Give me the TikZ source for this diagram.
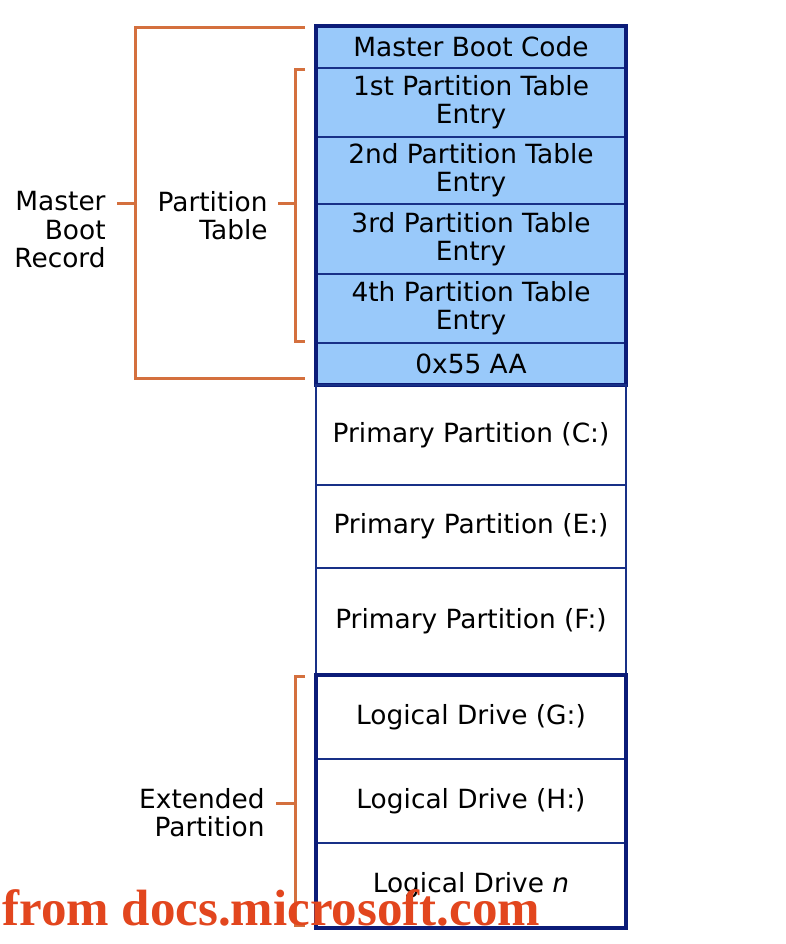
\documentclass[tikz,border=0pt]{standalone}
\usepackage{fontspec}
\setmainfont{DejaVu Sans}
\newfontfamily\srcfont{Liberation Serif}
\usepackage{tikz}
\usetikzlibrary{positioning}

\definecolor{cellfill}{RGB}{153,201,250}
\definecolor{cellline}{RGB}{24,48,135}
\definecolor{boxline}{RGB}{12,28,120}
\definecolor{bracecol}{RGB}{212,112,62}
\definecolor{srccol}{RGB}{226,70,30}

\begin{document}
\begin{tikzpicture}[x=0.5pt, y=-0.5pt,
    every node/.style={font=\fontsize{13.2}{14.2}\selectfont},
    cell/.style={draw=cellline, line width=0.9pt, minimum width=155pt, inner sep=0pt, outer sep=0pt, align=center},
    mbrcell/.style={cell, fill=cellfill},
    outer/.style={draw=boxline, line width=1.7pt},
    brace/.style={draw=bracecol, line width=1.5pt},
    lbl/.style={align=right, anchor=north east, inner sep=0pt}]
    \useasboundingbox (0,0) rectangle (786,944);

    % master boot record
    \node[mbrcell, minimum height=21pt, anchor=north] (mbc) at (471,26) {Master Boot Code};
    \node[mbrcell, minimum height=34.5pt, below=0pt of mbc] (pte1) {1st Partition Table\\Entry};
    \node[mbrcell, minimum height=33.5pt, below=0pt of pte1] (pte2) {2nd Partition Table\\Entry};
    \node[mbrcell, minimum height=35pt, below=0pt of pte2] (pte3) {3rd Partition Table\\Entry};
    \node[mbrcell, minimum height=34.5pt, below=0pt of pte3] (pte4) {4th Partition Table\\Entry};
    \node[mbrcell, minimum height=21pt, below=0pt of pte4] (sig) {0x55 AA};
    \draw[outer] (mbc.north west) rectangle (sig.south east);

    % primary partitions
    \node[cell, minimum height=50pt, below=0pt of sig] (pc) {Primary Partition (C:)};
    \node[cell, minimum height=41.5pt, below=0pt of pc] (pe) {Primary Partition (E:)};
    \node[cell, minimum height=53.5pt, below=0pt of pe] (pf) {Primary Partition (F:)};

    % extended partition
    \node[cell, minimum height=42pt, below=0pt of pf] (lg) {Logical Drive (G:)};
    \node[cell, minimum height=42pt, below=0pt of lg] (lh) {Logical Drive (H:)};
    \node[cell, minimum height=42.5pt, below=0pt of lh] (ln) {Logical Drive \textit{n}};
    \draw[outer] (lg.north west) rectangle (ln.south east);

    % brackets
    \node[lbl] (mbr) at (106,191) {Master\\Boot\\Record};
    \node[lbl] (ptab) at (268,191) {Partition\\Table};
    \node[lbl] (ext) at (265,788) {Extended\\Partition};

    \coordinate (mbrtop) at (305,27);
    \coordinate (mbrspine) at (135,203);
    \coordinate (mbrbot) at (305,378);
    \coordinate (mbrtick) at (117,203);
    \draw[brace] (mbrtop) -| (mbrspine) |- (mbrbot);
    \draw[brace] (mbrtick) -- (mbrspine);

    \coordinate (pttop) at (305,69);
    \coordinate (ptspine) at (295,203);
    \coordinate (ptbot) at (305,341);
    \coordinate (pttick) at (278,203);
    \draw[brace] (pttop) -| (ptspine) |- (ptbot);
    \draw[brace] (pttick) -- (ptspine);

    \coordinate (exttop) at (305,676);
    \coordinate (extspine) at (295,803);
    \coordinate (extbot) at (305,925);
    \coordinate (exttick) at (276,803);
    \draw[brace] (exttop) -| (extspine) |- (extbot);
    \draw[brace] (exttick) -- (extspine);

    \node[anchor=base west, inner sep=0pt, text=srccol, font=\srcfont\bfseries\fontsize{25.5}{25.5}\selectfont] (src) at (2,925) {from docs.microsoft.com};
\end{tikzpicture}
\end{document}
